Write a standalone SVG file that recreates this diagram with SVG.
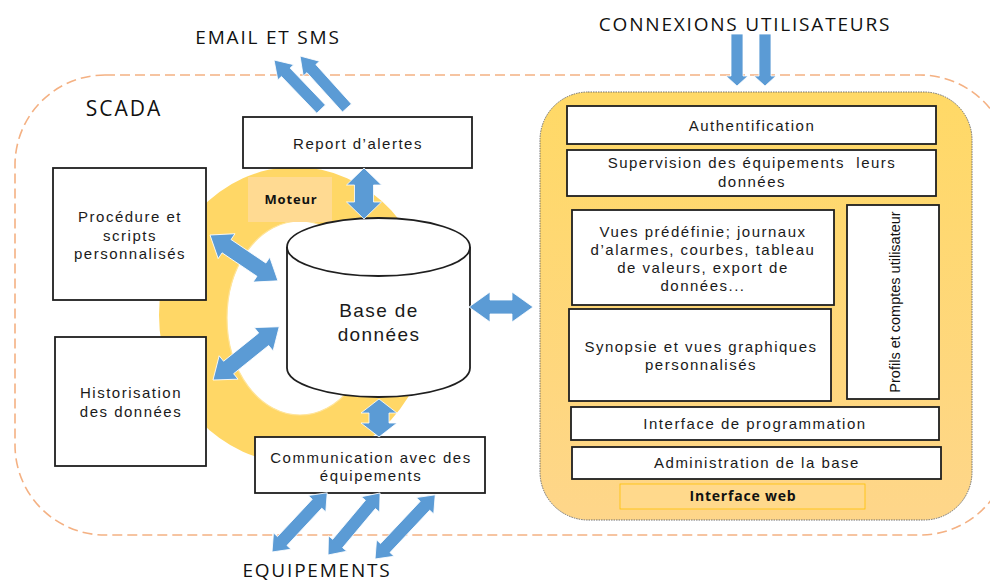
<svg xmlns="http://www.w3.org/2000/svg" width="990" height="583" viewBox="0 0 990 583">
<style>
.box{fill:#fff;stroke:#1f1f1f;stroke-width:1.8}
.t{font-family:"Liberation Sans","Open Sans",sans-serif;font-size:15px;letter-spacing:1.5px;fill:#1a1a1a;text-anchor:middle}
.title{font-family:"Open Sans","Liberation Sans",sans-serif;font-size:19px;letter-spacing:1.8px;fill:#111;text-anchor:middle}
.b{font-family:"Open Sans","Liberation Sans",sans-serif;font-weight:bold;fill:#111;text-anchor:middle}
.arr{fill:#5B9BD5;stroke:#fff;stroke-width:0.8}
</style>
<defs>
<linearGradient id="pg" x1="0" y1="0" x2="0" y2="1">
<stop offset="0" stop-color="#FFD966"/>
<stop offset="1" stop-color="#FED68A"/>
</linearGradient>
</defs>
<rect x="0" y="0" width="990" height="583" fill="#fff"/>
<!-- SCADA boundary -->
<rect id="scada" x="15" y="75" width="995" height="460" rx="90" ry="90" fill="none" stroke="#F4B183" stroke-width="1.6" stroke-dasharray="10,5"/>
<text class="title" x="124" y="116" style="font-size:21px;letter-spacing:2px">SCADA</text>
<text class="title" x="268" y="44">EMAIL ET SMS</text>
<text class="title" x="745" y="31">CONNEXIONS UTILISATEURS</text>
<text class="title" x="317" y="577">EQUIPEMENTS</text>

<!-- Moteur ring -->
<g id="moteur">
<path d="M159,315 A136,148 0 1 0 431,315 A136,148 0 1 0 159,315 Z M227,318 A73,97 0 1 1 373,318 A73,97 0 1 1 227,318 Z" fill="#FFD766" fill-rule="evenodd"/>
<ellipse cx="300" cy="318" rx="73" ry="97" fill="none" stroke="#FFE49A" stroke-width="1.2"/>
<rect x="248" y="177" width="84" height="45" fill="#FFDA92"/>
<text class="b" x="291" y="204" style="font-size:13px;letter-spacing:0.8px">Moteur</text>
</g>

<g id="report">
<rect class="box" x="243" y="117" width="229" height="51"/>
<text class="t" x="358" y="149">Report d’alertes</text>
</g>

<g id="procedure">
<rect class="box" x="53" y="168" width="153" height="132"/>
<text class="t" x="130" y="222">Procédure et</text>
<text class="t" x="130" y="241">scripts</text>
<text class="t" x="130" y="259">personnalisés</text>
</g>

<g id="historisation">
<rect class="box" x="55" y="337" width="151" height="129"/>
<text class="t" x="131" y="398">Historisation</text>
<text class="t" x="131" y="417">des données</text>
</g>

<g id="base">
<path class="box" d="M287,247 L287,368 A91.5,29 0 0 0 470,368 L470,247 A91.5,29 0 0 0 287,247 Z"/>
<path d="M287,247 A91.5,29 0 0 0 470,247" fill="none" stroke="#1f1f1f" stroke-width="1.8"/>
<text class="t" x="379" y="317" style="font-size:19px;letter-spacing:1.4px">Base de</text>
<text class="t" x="379" y="341" style="font-size:19px;letter-spacing:1.4px">données</text>
</g>

<g id="communication">
<rect class="box" x="255" y="437" width="230" height="56"/>
<text class="t" x="371" y="463">Communication avec des</text>
<text class="t" x="371" y="481">équipements</text>
</g>

<g id="web">
<rect x="540" y="92" width="432" height="428" rx="48" ry="48" fill="url(#pg)" stroke="#6f6f6f" stroke-width="1" stroke-dasharray="1.5,1"/>
<rect x="620" y="484" width="245" height="25" fill="#FFD98C" stroke="#FFC000" stroke-width="0.8"/>
<text class="b" x="743" y="501" style="font-size:14px;letter-spacing:0.8px">Interface web</text>
</g>

<g id="auth">
<rect class="box" x="567" y="106" width="369" height="38"/>
<text class="t" x="752" y="131">Authentification</text>
</g>

<g id="supervision">
<rect class="box" x="567" y="150" width="369" height="46"/>
<text class="t" x="752" y="168" xml:space="preserve">Supervision des équipements  leurs</text>
<text class="t" x="752" y="187">données</text>
</g>

<g id="vues">
<rect class="box" x="572" y="210" width="262" height="95"/>
<text class="t" x="703" y="237">Vues prédéfinie; journaux</text>
<text class="t" x="703" y="255">d’alarmes, courbes, tableau</text>
<text class="t" x="703" y="273">de valeurs, export de</text>
<text class="t" x="703" y="291">données...</text>
</g>

<g id="profils">
<rect class="box" x="847" y="205" width="92" height="194"/>
<text x="0" y="0" transform="translate(900,302) rotate(-90)" style="font-family:'Liberation Sans',sans-serif;font-size:14.5px;fill:#111;text-anchor:middle">Profils et comptes utilisateur</text>
</g>

<g id="synopsie">
<rect class="box" x="569" y="309" width="262" height="92"/>
<text class="t" x="701" y="352">Synopsie et vues graphiques</text>
<text class="t" x="701" y="370">personnalisés</text>
</g>

<g id="programmation">
<rect class="box" x="571" y="407" width="368" height="33"/>
<text class="t" x="755" y="429">Interface de programmation</text>
</g>

<g id="administration">
<rect class="box" x="572" y="447" width="369" height="32"/>
<text class="t" x="757" y="468">Administration de la base</text>
</g>

<g id="connectors">
<!-- email -->
<path class="arr" transform="translate(274,60) rotate(46.2)" d="M0,0 L17,-11 L17,-6 L68,-6 L68,6 L17,6 L17,11 Z"/>
<path class="arr" transform="translate(300,56) rotate(47.9)" d="M0,0 L17,-11 L17,-6 L70,-6 L70,6 L17,6 L17,11 Z"/>
<!-- connexions -->
<path class="arr" transform="translate(737,86) rotate(-90)" d="M0,0 L10,-11 L10,-6 L52,-6 L52,6 L10,6 L10,11 Z"/>
<path class="arr" transform="translate(765,86) rotate(-90)" d="M0,0 L10,-11 L10,-6 L52,-6 L52,6 L10,6 L10,11 Z"/>
<!-- report <-> base -->
<path class="arr" transform="translate(364,168) rotate(90)" d="M0,0 L17,-17.5 L17,-9.5 L34,-9.5 L34,-17.5 L51,0 L34,17.5 L34,9.5 L17,9.5 L17,17.5 Z"/>
<!-- base <-> communication -->
<path class="arr" transform="translate(379,399) rotate(90)" d="M0,0 L14,-18 L14,-10 L24,-10 L24,-18 L38,0 L24,18 L24,10 L14,10 L14,18 Z"/>
<!-- base <-> web -->
<path class="arr" transform="translate(469,307)" d="M0,0 L21,-15 L21,-7 L43,-7 L43,-15 L64,0 L43,15 L43,7 L21,7 L21,15 Z"/>
<!-- procedure <-> base -->
<path class="arr" transform="translate(210,235) rotate(34)" d="M0,0 L20,-15 L20,-8 L62,-8 L62,-15 L82,0 L62,15 L62,8 L20,8 L20,15 Z"/>
<!-- historisation <-> base -->
<path class="arr" transform="translate(213,380) rotate(-38.8)" d="M0,0 L20,-15 L20,-8 L65,-8 L65,-15 L85,0 L65,15 L65,8 L20,8 L20,15 Z"/>
<!-- equipements <-> communication -->
<path class="arr" transform="translate(272,552) rotate(-47)" d="M0,0 L15,-12 L15,-6.5 L66,-6.5 L66,-12 L81,0 L66,12 L66,6.5 L15,6.5 L15,12 Z"/>
<path class="arr" transform="translate(328,555) rotate(-50)" d="M0,0 L15,-12 L15,-6.5 L66,-6.5 L66,-12 L81,0 L66,12 L66,6.5 L15,6.5 L15,12 Z"/>
<path class="arr" transform="translate(375,559) rotate(-46.8)" d="M0,0 L15,-12 L15,-6.5 L73,-6.5 L73,-12 L88,0 L73,12 L73,6.5 L15,6.5 L15,12 Z"/>
</g>
</svg>
